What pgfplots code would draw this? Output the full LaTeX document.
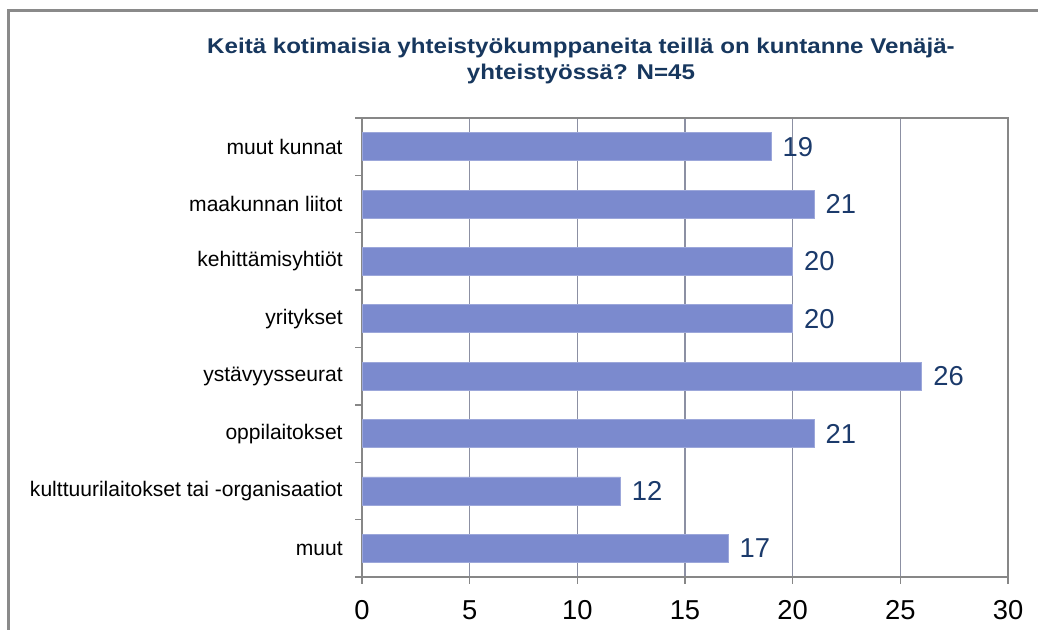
\documentclass[border=0pt]{standalone}
\usepackage{fontspec}
\setmainfont{Liberation Sans}
\newfontfamily\titlefont[FakeStretch=1.13]{Liberation Sans}
\usepackage{pgfplots}
\pgfplotsset{compat=1.18}
\definecolor{barblue}{HTML}{7B8ACE}
\definecolor{navy}{HTML}{1B3A6B}
\definecolor{titlenavy}{HTML}{17375E}
\definecolor{axisgray}{HTML}{878787}
\definecolor{gridgray}{HTML}{8C90A3}
\definecolor{framegray}{HTML}{8A8A8A}
\begin{document}
\begin{tikzpicture}
\useasboundingbox (0,0) rectangle (778.5pt,472.5pt);
\fill[white] (0,0) rectangle (778.5pt,472.5pt);
\draw[framegray, line width=1.6pt] (6.4pt,-5pt) -- (6.4pt,464.6pt) -- (790pt,464.6pt);
\node[align=center, text=titlenavy, font=\titlefont\bfseries\fontsize{16}{19.5}\selectfont]
  at (435.75pt,427pt) {Keitä kotimaisia yhteistyökumppaneita teillä on kuntanne Venäjä-\\yhteistyössä? N=45};
\begin{axis}[
  at={(271.5pt,39.75pt)}, anchor=south west,
  scale only axis, width=484.5pt, height=344.25pt,
  xbar, bar width=21pt,
  xmin=0, xmax=30, ymin=-0.5, ymax=7.5,
  xtick={0,5,...,30},
  ytick={0,...,7},
  yticklabels={muut, kulttuurilaitokset tai -organisaatiot, oppilaitokset, ystävyysseurat, yritykset, kehittämisyhtiöt, maakunnan liitot, muut kunnat},
  minor ytick={-0.5,0.5,...,7.5},
  xtick pos=bottom, ytick pos=left,
  major y tick style={draw=none},
  minor y tick style={draw=axisgray, line width=1pt},
  major x tick style={draw=axisgray, line width=1pt},
  tick align=outside,
  major tick length=5pt, minor tick length=5pt,
  xmajorgrids, major grid style={draw=gridgray, line width=0.9pt},
  axis line style={draw=axisgray, line width=1.2pt},
  /pgf/number format/assume math mode=true,
  xticklabel style={font=\fontsize{20.5}{22}\selectfont, text=black, yshift=-9pt},
  yticklabel style={font=\fontsize{15.8}{18}\selectfont, text=black, xshift=-6pt},
  nodes near coords,
  every node near coord/.append style={font=\fontsize{20.5}{22}\selectfont, text=navy, anchor=west, xshift=5pt},
]
\addplot[fill=barblue, draw=barblue!75!white, line width=0.6pt] coordinates {
  (17,0) (12,1) (21,2) (26,3) (20,4) (20,5) (21,6) (19,7)
};
\end{axis}
\end{tikzpicture}
\end{document}
